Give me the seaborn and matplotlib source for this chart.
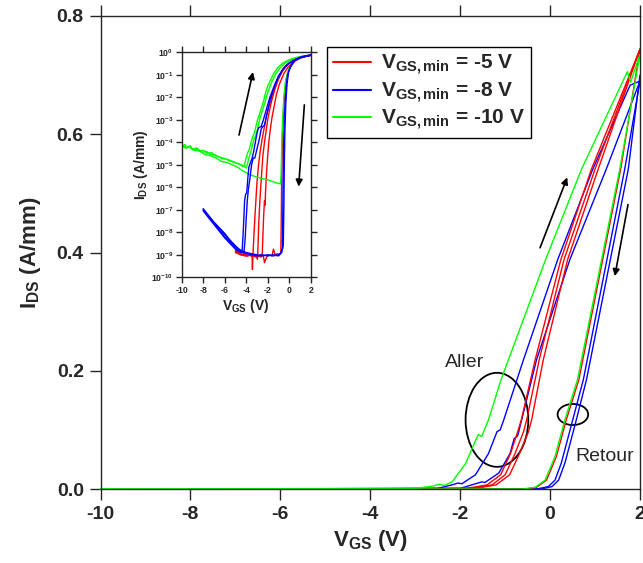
import numpy as np
import pandas as pd
import matplotlib.pyplot as plt
import seaborn as sns
from matplotlib.patches import Ellipse
from matplotlib.lines import Line2D
from matplotlib.ticker import FuncFormatter

# ==========================
# 1. Donnees
# ==========================

# --- courbe principale, echelle lineaire (V, A/mm)
main_g_fwd_v = [-10.0, -3.0, -2.6, -2.47, -2.35, -2.18, -1.88, -1.60, -1.52, -1.37, -1.09, -0.10, 0.70, 1.20, 1.72, 1.79, 2.0]
main_g_fwd_i = [0.0, 0.001, 0.005, 0.008, 0.006, 0.012, 0.043, 0.092, 0.089, 0.117, 0.185, 0.388, 0.541, 0.622, 0.706, 0.688, 0.735]
main_g_bwd_v = [2.0, 1.55, 0.61, 0.33, 0.11, -0.11, -0.33, -0.6, -10.0]
main_g_bwd_i = [0.735, 0.541, 0.185, 0.117, 0.055, 0.015, 0.003, 0.0, 0.0]

main_b_fwd1_v = [-8.0, -2.5, -2.18, -2.05, -1.96, -1.66, -1.37, -1.18, -1.11, -1.03, -0.59, 0.17, 0.95, 1.78, 2.0]
main_b_fwd1_i = [0.0, 0.001, 0.007, 0.010, 0.009, 0.024, 0.060, 0.097, 0.100, 0.117, 0.219, 0.388, 0.541, 0.683, 0.690]
main_b_fwd2_v = [-8.0, -2.0, -1.74, -1.52, -1.45, -1.14, -0.89, -0.80, -0.72, -0.30, 0.44, 1.25, 2.0]
main_b_fwd2_i = [0.0, 0.001, 0.007, 0.012, 0.011, 0.027, 0.060, 0.085, 0.090, 0.219, 0.388, 0.541, 0.690]
main_b_bwd1_v = [2.0, 1.66, 0.74, 0.48, 0.25, 0.11, -0.04, -0.30, -8.0]
main_b_bwd1_i = [0.690, 0.541, 0.185, 0.110, 0.044, 0.015, 0.004, 0.0, 0.0]
main_b_bwd2_v = [2.0, 1.74, 0.81, 0.56, 0.33, 0.19, 0.04, -0.20, -8.0]
main_b_bwd2_i = [0.700, 0.541, 0.185, 0.110, 0.044, 0.015, 0.004, 0.0, 0.0]

main_r_fwd1_v = [-5.0, -1.9, -1.7, -1.4, -1.1, -0.88, -0.72, -0.64, -0.33, 0.24, 0.92, 2.0]
main_r_fwd2_v = [-5.0, -1.8, -1.59, -1.29, -1.0, -0.78, -0.59, -0.52, -0.24, 0.31, 1.0, 2.0]
main_r_fwd3_v = [-5.0, -1.7, -1.5, -1.2, -0.9, -0.68, -0.48, -0.41, -0.15, 0.39, 1.07, 2.0]
main_r_fwd_i = [0.0, 0.001, 0.003, 0.007, 0.024, 0.060, 0.097, 0.117, 0.219, 0.388, 0.541, 0.744]
main_r_bwd_v = [2.0, 1.57, 0.64, 0.36, 0.14, -0.08, -0.30, -0.55, -5.0]
main_r_bwd_i = [0.744, 0.541, 0.185, 0.117, 0.055, 0.015, 0.003, 0.0, 0.0]

# --- encart, echelle log (V, decades de A/mm)
ins_r1_v = [-5.0, -4.6, -4.2, -3.9, -3.6, -3.45, -3.42, -3.38, -3.3, -3.2, -3.1, -3.0, -2.85, -2.7, -2.5, -2.3, -2.1, -1.9, -1.6, -1.3, -1.0, -0.6, -0.2, 0.3, 0.8, 1.4, 2.0]
ins_r1_dec = [-8.8, -8.95, -9.0, -9.05, -9.0, -9.1, -9.65, -9.1, -8.3, -7.4, -6.6, -5.8, -5.0, -4.4, -3.8, -3.3, -2.8, -2.4, -1.9, -1.45, -1.1, -0.75, -0.55, -0.38, -0.27, -0.19, -0.14]
ins_r2_v = [-5.0, -4.5, -4.0, -3.5, -3.1, -2.95, -2.9, -2.85, -2.75, -2.65, -2.55, -2.45, -2.3, -2.15, -2.0, -1.8, -1.6, -1.3, -1.0, -0.6, -0.2, 0.3, 0.8, 1.4, 2.0]
ins_r2_dec = [-8.85, -9.0, -9.05, -9.0, -9.05, -9.2, -8.6, -7.8, -6.8, -6.0, -5.3, -4.6, -4.0, -3.5, -3.0, -2.5, -2.1, -1.6, -1.2, -0.82, -0.57, -0.39, -0.27, -0.19, -0.13]
ins_r3_v = [-5.0, -4.5, -4.0, -3.5, -3.0, -2.6, -2.5, -2.45, -2.38, -2.3, -2.25, -2.2, -2.1, -2.0, -1.9, -1.75, -1.6, -1.4, -1.2, -0.9, -0.5, -0.1, 0.4, 1.0, 1.5, 2.0]
ins_r3_dec = [-8.9, -9.0, -9.05, -9.0, -9.05, -9.1, -8.9, -8.2, -7.3, -6.6, -6.8, -6.2, -5.3, -4.6, -4.0, -3.4, -2.9, -2.4, -1.9, -1.4, -0.95, -0.65, -0.42, -0.27, -0.19, -0.14]
ins_rb_v = [2.0, 1.5, 1.0, 0.5, 0.0, -0.3, -0.5, -0.62, -0.7, -0.74, -0.78, -0.9, -1.1, -1.3, -1.47, -1.6, -1.9, -2.1, -2.3, -2.4, -2.7, -3.0, -3.5, -4.0, -4.5, -5.0]
ins_rb_dec = [-0.13, -0.17, -0.25, -0.4, -0.75, -1.3, -2.3, -3.6, -5.5, -7.5, -8.9, -9.0, -8.95, -9.0, -8.75, -9.05, -9.0, -9.1, -9.35, -9.05, -9.0, -9.1, -9.05, -9.0, -8.9, -8.8]

ins_b1_v = [-8.0, -7.5, -7.0, -6.5, -6.0, -5.5, -5.0, -4.7, -4.5, -4.38, -4.3, -4.22, -4.15, -4.05, -3.95, -3.85, -3.75, -3.6, -3.45, -3.3, -3.15, -3.0, -2.85, -2.6, -2.4, -2.1, -1.8, -1.4, -1.0, -0.5, 0.0, 0.6, 1.2, 2.0]
ins_b1_dec = [-7.0, -7.3, -7.6, -7.9, -8.2, -8.45, -8.7, -8.82, -8.85, -8.8, -8.2, -7.4, -6.6, -6.3, -6.25, -5.6, -5.1, -4.9, -4.7, -4.4, -4.0, -3.6, -3.35, -3.3, -3.0, -2.5, -2.0, -1.5, -1.05, -0.7, -0.48, -0.32, -0.22, -0.13]
ins_b2_v = [-8.0, -7.5, -7.0, -6.5, -6.0, -5.5, -5.0, -4.5, -4.2, -4.1, -4.0, -3.9, -3.8, -3.65, -3.5, -3.35, -3.2, -3.0, -2.8, -2.6, -2.45, -2.3, -2.1, -1.8, -1.5, -1.1, -0.7, -0.2, 0.4, 1.1, 2.0]
ins_b2_dec = [-7.05, -7.35, -7.65, -7.95, -8.25, -8.5, -8.75, -8.9, -8.85, -8.3, -7.4, -6.6, -6.1, -5.6, -5.0, -4.7, -4.7, -4.3, -3.9, -3.4, -3.3, -3.25, -2.8, -2.2, -1.7, -1.2, -0.85, -0.55, -0.35, -0.22, -0.13]
ins_bb1_v = [2.0, 1.5, 1.0, 0.5, 0.1, -0.15, -0.3, -0.42, -0.5, -0.56, -0.6, -0.64, -0.8, -1.0, -1.5, -2.0, -2.5, -3.0, -3.5, -4.0, -4.5, -4.75, -5.0, -5.5, -6.0, -6.5, -7.0, -7.5, -8.0]
ins_bb1_dec = [-0.13, -0.17, -0.24, -0.38, -0.65, -1.0, -1.6, -2.6, -3.8, -5.5, -7.3, -8.7, -8.95, -9.05, -9.0, -9.05, -9.0, -9.05, -9.0, -8.95, -8.85, -8.72, -8.6, -8.35, -8.05, -7.8, -7.55, -7.25, -6.95]
ins_bb2_v = [2.0, 1.5, 1.0, 0.5, 0.2, -0.05, -0.2, -0.32, -0.4, -0.46, -0.5, -0.55, -0.7, -1.0, -1.5, -2.0, -2.5, -3.0, -3.5, -4.0, -4.5, -4.8, -5.0, -5.5, -6.0, -6.5, -7.0, -7.5, -8.0]
ins_bb2_dec = [-0.12, -0.16, -0.22, -0.34, -0.55, -0.85, -1.4, -2.3, -3.5, -5.2, -7.0, -8.6, -8.9, -9.0, -9.05, -9.0, -9.05, -9.0, -8.95, -8.9, -8.8, -8.7, -8.62, -8.38, -8.1, -7.82, -7.57, -7.28, -7.0]

ins_g1_v = [-10.0, -9.7, -9.5, -9.2, -9.0, -8.6, -8.3, -8.0, -7.6, -7.2, -6.9, -6.5, -6.0, -5.5, -5.0, -4.6, -4.3, -4.15, -4.05, -3.95, -3.85, -3.7, -3.55, -3.4, -3.25, -3.1, -2.95, -2.8, -2.6, -2.4, -2.2, -2.0, -1.7, -1.4, -1.0, -0.5, 0.0, 0.6, 1.2, 2.0]
ins_g1_dec = [-4.2, -4.1, -4.25, -4.15, -4.3, -4.25, -4.4, -4.35, -4.5, -4.45, -4.6, -4.65, -4.72, -4.8, -4.9, -4.98, -5.08, -5.0, -4.75, -4.6, -4.45, -4.3, -4.0, -3.75, -3.6, -3.3, -3.0, -2.8, -2.5, -2.2, -1.8, -1.5, -1.2, -0.9, -0.65, -0.45, -0.33, -0.24, -0.17, -0.12]
ins_g2_v = [-10.0, -9.6, -9.3, -8.9, -8.5, -8.1, -7.7, -7.3, -6.9, -6.4, -5.9, -5.4, -4.9, -4.5, -4.2, -4.0, -3.85, -3.75, -3.65, -3.55, -3.45, -3.3, -3.15, -3.0, -2.85, -2.7, -2.5, -2.3, -2.1, -1.85, -1.6, -1.3, -0.9, -0.4, 0.2, 0.9, 2.0]
ins_g2_dec = [-4.15, -4.25, -4.2, -4.35, -4.3, -4.45, -4.4, -4.55, -4.55, -4.7, -4.75, -4.85, -4.92, -5.0, -5.05, -5.15, -4.9, -4.7, -4.55, -4.4, -4.2, -3.9, -3.75, -3.5, -3.2, -2.9, -2.6, -2.3, -1.95, -1.6, -1.3, -1.0, -0.72, -0.5, -0.33, -0.22, -0.12]
ins_gb_v = [2.0, 1.4, 0.8, 0.3, -0.1, -0.35, -0.5, -0.6, -0.68, -0.72, -0.76, -0.8, -1.2, -1.8, -2.4, -3.0, -3.6, -4.0, -4.4, -4.8, -5.3, -5.8, -6.3, -6.8, -7.3, -7.8, -8.3, -8.8, -9.3, -9.7, -10.0]
ins_gb_dec = [-0.12, -0.17, -0.26, -0.45, -0.8, -1.3, -2.0, -2.9, -3.8, -4.7, -5.5, -5.85, -5.8, -5.7, -5.62, -5.55, -5.45, -5.35, -5.25, -5.1, -5.0, -4.9, -4.85, -4.7, -4.6, -4.55, -4.4, -4.35, -4.2, -4.25, -4.1]

legend_labels = [r"V$_{GS,min}$ = -5 V", r"V$_{GS,min}$ = -8 V", r"V$_{GS,min}$ = -10 V"]
x_ticks = [-10, -8, -6, -4, -2, 0, 2]
y_ticks = [0.0, 0.2, 0.4, 0.6, 0.8]
ins_y_dec = list(range(-10, 1))

RED, BLUE, GREEN = "#ff0000", "#0000ff", "#00ff00"


def table(curves, log=False):
    frames = []
    for k, (v, i) in enumerate(curves):
        i = np.array(i, dtype=float)
        if log:
            i = 10.0 ** i
        frames.append(pd.DataFrame({"V": v, "I": i, "courbe": k}))
    return pd.concat(frames, ignore_index=True)


# ==========================
# 2. Style
# ==========================

sns.set_style("ticks")
plt.rcParams["font.family"] = ["Liberation Sans", "DejaVu Sans"]
plt.rcParams["font.weight"] = "bold"
plt.rcParams["axes.unicode_minus"] = False
plt.rcParams["mathtext.fontset"] = "custom"
plt.rcParams["mathtext.rm"] = "Liberation Sans:bold"
plt.rcParams["mathtext.bf"] = "Liberation Sans:bold"
plt.rcParams["mathtext.it"] = "Liberation Sans:bold"
plt.rcParams["mathtext.default"] = "bf"
plt.rcParams["axes.linewidth"] = 1.0

fig = plt.figure(figsize=(6.43, 5.63), dpi=100)

# ==========================
# 3. Graphe principal
# ==========================

ax = fig.add_axes([100.5 / 643, 1 - 489 / 563, (640 - 100.5) / 643, (489 - 16) / 563])

main_sets = [
    (BLUE, [(main_b_fwd1_v, main_b_fwd1_i), (main_b_fwd2_v, main_b_fwd2_i),
            (main_b_bwd1_v, main_b_bwd1_i), (main_b_bwd2_v, main_b_bwd2_i)]),
    (RED, [(main_r_fwd1_v, main_r_fwd_i), (main_r_fwd2_v, main_r_fwd_i),
           (main_r_fwd3_v, main_r_fwd_i), (main_r_bwd_v, main_r_bwd_i)]),
    (GREEN, [(main_g_fwd_v, main_g_fwd_i), (main_g_bwd_v, main_g_bwd_i)]),
]
for col, curves in main_sets:
    sns.lineplot(data=table(curves), x="V", y="I", units="courbe", estimator=None,
                 sort=False, color=col, lw=1.0, ax=ax, clip_on=False)

ax.set_xlim(-10, 2)
ax.set_ylim(0, 0.8)
ax.set_xticks(x_ticks)
ax.set_yticks(y_ticks)
ax.yaxis.set_major_formatter(FuncFormatter(lambda v, p: f"{v:.1f}"))
ax.tick_params(direction="out", length=8, width=1, labelsize=14, top=True, pad=4)
ax.set_xlabel(r"V$_{GS}$ (V)", fontsize=16, fontweight="bold", labelpad=4)
ax.set_ylabel(r"I$_{DS}$ (A/mm)", fontsize=16, fontweight="bold", labelpad=10)

ax.add_patch(Ellipse((-1.182, 0.117), 1.395, 0.159, fill=False, ec="k", lw=1.3))
ax.add_patch(Ellipse((0.507, 0.126), 0.68, 0.0356, fill=False, ec="k", lw=1.3))
ax.text(-1.90, 0.2136, "Aller", ha="center", va="center", fontsize=14, fontweight="normal")
ax.text(1.22, 0.055, "Retour", ha="center", va="center", fontsize=14, fontweight="normal")

fleche = dict(arrowstyle="-|>", color="k", lw=1.2, mutation_scale=10, shrinkA=0, shrinkB=0)
ax.annotate("", xy=(0.382, 0.527), xytext=(-0.223, 0.408), arrowprops=fleche)
ax.annotate("", xy=(1.44, 0.36), xytext=(1.733, 0.481), arrowprops=fleche)

handles = [Line2D([], [], color=c, lw=1.5) for c in (RED, BLUE, GREEN)]
leg = fig.legend(handles, legend_labels, loc="upper left", bbox_to_anchor=(327 / 643, 1 - 47 / 563),
                 frameon=True, fancybox=False, edgecolor="k", framealpha=1, fontsize=15,
                 handlelength=1.8, borderpad=0.3, labelspacing=0.15, handletextpad=0.5,
                 borderaxespad=0)
leg.get_frame().set_linewidth(1.0)

# ==========================
# 4. Encart (log)
# ==========================

ax_in = fig.add_axes([181.7 / 643, 1 - 277.3 / 563, 129 / 643, 225 / 563])
ax_in.set_yscale("log")

ins_sets = [
    (RED, [(ins_r1_v, ins_r1_dec), (ins_r2_v, ins_r2_dec), (ins_r3_v, ins_r3_dec), (ins_rb_v, ins_rb_dec)]),
    (GREEN, [(ins_g1_v, ins_g1_dec), (ins_g2_v, ins_g2_dec), (ins_gb_v, ins_gb_dec)]),
    (BLUE, [(ins_b1_v, ins_b1_dec), (ins_b2_v, ins_b2_dec), (ins_bb1_v, ins_bb1_dec), (ins_bb2_v, ins_bb2_dec)]),
]
for col, curves in ins_sets:
    sns.lineplot(data=table(curves, log=True), x="V", y="I", units="courbe", estimator=None,
                 sort=False, color=col, lw=1.0, ax=ax_in)

ax_in.set_xlim(-10, 2)
ax_in.set_ylim(1e-10, 1)
ax_in.set_xticks(x_ticks)
ax_in.set_yticks([10.0 ** d for d in ins_y_dec])
ax_in.yaxis.set_major_formatter(FuncFormatter(lambda v, p: r"$10^{%d}$" % round(np.log10(v))))
ax_in.minorticks_off()
ax_in.tick_params(direction="out", length=4, width=1, labelsize=6.3, top=True, right=True, pad=2)
ax_in.set_xlabel(r"V$_{GS}$ (V)", fontsize=10, fontweight="bold", labelpad=2)
ax_in.set_ylabel(r"I$_{DS}$ (A/mm)", fontsize=10, fontweight="bold", labelpad=1)

ax_in.annotate("", xy=(-3.37, 1.33e-1), xytext=(-4.67, 2.1e-4), arrowprops=fleche)
ax_in.annotate("", xy=(0.88, 1.07e-6), xytext=(1.41, 4.6e-3), arrowprops=fleche)

fig.savefig("out.png", dpi=100)
